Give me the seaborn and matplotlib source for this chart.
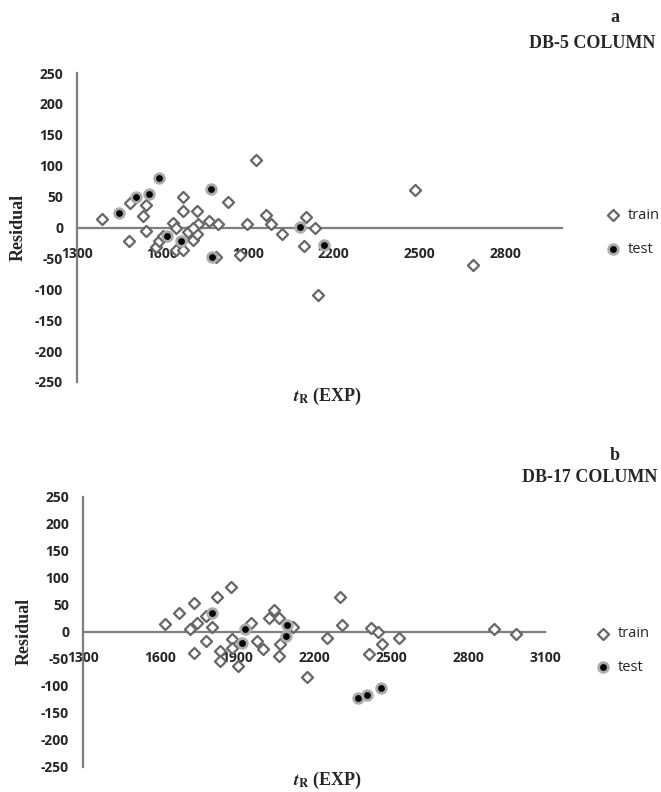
import numpy as np
import pandas as pd
import matplotlib
matplotlib.use('Agg')
import matplotlib.pyplot as plt
import seaborn as sns

# DB-5 column residuals
a_train_x = [1386, 1481, 1487, 1540, 1531, 1543, 1578, 1589, 1601, 1636, 1648, 1646, 1672,
             1672, 1672, 1689, 1707, 1721, 1724, 1721, 1707, 1762, 1795, 1787, 1828, 1871,
             1897, 1927, 1962, 1979, 2018, 2104, 2096, 2135, 2145, 2485, 2689]
a_train_y = [14, -21, 39, 37, 19, -6, -31, -22, -14, 8, 0, -36, -36,
             50, 27, -8, -20, -10, 5, 26, 0, 11, 5, -47, 41, -44,
             6, 110, 20, 6, -10, 17, -30, 0, -109, 61, -61]
a_test_x = [1446, 1505, 1552, 1589, 1615, 1663, 1769, 1774, 2082, 2164]
a_test_y = [24, 49, 55, 80, -13, -21, 62, -48, 1, -28]

# DB-17 column residuals
b_train_x = [1621, 1674, 1732, 1718, 1745, 1780, 1802, 1731, 1780, 1822, 1876, 1835, 1835,
             1881, 1881, 1903, 1955, 1979, 2001, 2025, 2044, 2064, 2066, 2064, 2119, 2172,
             2249, 2302, 2308, 2421, 2449, 2465, 2416, 2532, 2901, 2987]
b_train_y = [15, 35, 53, 5, 17, 30, 9, -39, -17, 65, 83, -36, -54,
             -14, -29, -63, 16, -17, -32, 25, 40, 26, -22, -44, 10, -83,
             -12, 64, 13, 8, -1, -22, -41, -11, 5, -4]
b_test_x = [1802, 1930, 1918, 2093, 2089, 2371, 2406, 2461]
b_test_y = [35, 5, -21, 13, -7, -122, -117, -104]

y_ticks = [-250, -200, -150, -100, -50, 0, 50, 100, 150, 200, 250]
a_xticks = [1300, 1600, 1900, 2200, 2500, 2800]
b_xticks = [1300, 1600, 1900, 2200, 2500, 2800, 3100]

sns.set_style('white')
plt.rcParams['font.family'] = ['Open Sans', 'DejaVu Sans']
plt.rcParams['mathtext.fontset'] = 'stix'
plt.rcParams['axes.unicode_minus'] = False

fig = plt.figure(figsize=(6.61, 7.92), dpi=100)
ax_a = fig.add_axes([0.1165, 0.5177, 0.734, 0.390])
ax_b = fig.add_axes([0.1256, 0.0316, 0.699, 0.341])

gray = '#7f7f7f'


def draw(ax, tx, ty, sx, sy, xlim, xticks, leg_x, leg_y):
    tr = pd.DataFrame({'x': tx, 'y': ty})
    te = pd.DataFrame({'x': sx, 'y': sy})
    sns.scatterplot(data=tr, x='x', y='y', ax=ax, marker='D', s=32,
                    facecolor='white', edgecolor='#666666', linewidth=1.6,
                    label='train', zorder=3)
    sns.scatterplot(data=te, x='x', y='y', ax=ax, marker='o', s=48,
                    facecolor='black', edgecolor='#aaaaaa', linewidth=2.0,
                    label='test', zorder=4)
    ax.set_xlim(*xlim)
    ax.set_ylim(-250, 250)
    ax.set_xticks(xticks)
    ax.set_yticks(y_ticks)
    for s in ['top', 'right']:
        ax.spines[s].set_visible(False)
    ax.spines['left'].set_color(gray)
    ax.spines['left'].set_linewidth(1.6)
    ax.spines['bottom'].set_position(('data', 0))
    ax.spines['bottom'].set_color(gray)
    ax.spines['bottom'].set_linewidth(1.6)
    ax.tick_params(axis='x', length=0, pad=14, labelsize=10)
    ax.tick_params(axis='y', length=0, pad=10, labelsize=10)
    for lab in ax.get_xticklabels() + ax.get_yticklabels():
        lab.set_fontweight('bold')
    ax.set_xlabel('')
    ax.set_ylabel('Residual', family='Liberation Serif', fontweight='bold',
                  fontsize=13, labelpad=6)
    ax.legend(loc='center left', bbox_to_anchor=(leg_x, leg_y), frameon=False,
              fontsize=10.5, handletextpad=0.0, labelspacing=1.3, borderaxespad=0)


draw(ax_a, a_train_x, a_train_y, a_test_x, a_test_y, (1300, 3000), a_xticks, 1.063, 0.484)
draw(ax_b, b_train_x, b_train_y, b_test_x, b_test_y, (1300, 3100), b_xticks, 1.082, 0.43)

serif = dict(family='Liberation Serif', fontweight='bold')
fig.text(615 / 661, 1 - 17 / 792, 'a', ha='center', va='center', fontsize=13, **serif)
fig.text(655 / 661, 1 - 43 / 792, 'DB-5 COLUMN', ha='right', va='center', fontsize=13, **serif)
fig.text(615 / 661, 1 - 455 / 792, 'b', ha='center', va='center', fontsize=13, **serif)
fig.text(657 / 661, 1 - 478 / 792, 'DB-17 COLUMN', ha='right', va='center', fontsize=13, **serif)

xl = r'$\mathbfit{t}_{\mathbf{R}}$ (EXP)'
fig.text(328 / 661, 1 - 396 / 792, xl, ha='center', va='center', fontsize=13, **serif)
fig.text(328 / 661, 1 - 780 / 792, xl, ha='center', va='center', fontsize=13, **serif)

fig.savefig('out.png', dpi=100)
